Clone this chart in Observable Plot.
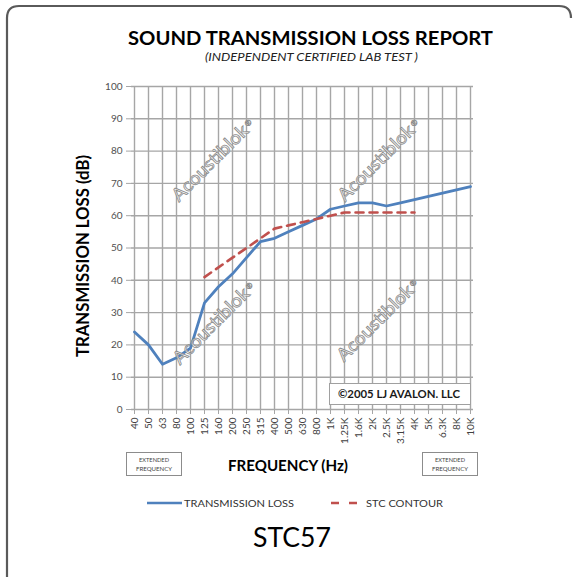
<!DOCTYPE html>
<html><head><meta charset="utf-8">
<script src="https://cdn.jsdelivr.net/npm/d3@7"></script>
<script src="https://cdn.jsdelivr.net/npm/@observablehq/plot@0.6"></script>
<style>
html,body{margin:0;padding:0;background:#fff;}
#wrap{position:relative;width:576px;height:577px;overflow:hidden;background:#fff;}
#wrap > svg{position:absolute;left:0;top:0;}
</style></head><body><div id="wrap"></div>
<script>
// ---- data ----
const frequencies = ["40","50","63","80","100","125","160","200","250","315","400","500","630","800","1K","1.25K","1.6K","2K","2.5K","3.15K","4K","5K","6.3K","8K","10K"];
const transmissionLoss = [24,20,14,16,19,33,38,42,47,52,53,55,57,59,62,63,64,64,63,64,65,66,67,68,69];
const stcFrequencies = ["125","160","200","250","315","400","500","630","800","1K","1.25K","1.6K","2K","2.5K","3.15K","4K"];
const stcContour = [41,44,47,50,53,56,57,58,59,60,61,61,61,61,61,61];
const yTicks = [0,10,20,30,40,50,60,70,80,90,100];

const title = "SOUND TRANSMISSION LOSS REPORT";
const subtitle = "(INDEPENDENT CERTIFIED LAB TEST )";
const yTitle = "TRANSMISSION LOSS (dB)";
const xTitle = "FREQUENCY (Hz)";
const copyright = "\u00A92005 LJ AVALON. LLC";
const seriesNames = ["TRANSMISSION LOSS", "STC CONTOUR"];
const seriesColors = ["#4f81bd", "#c0504d"];
const rating = "STC57";
const watermark = "Acoustiblok";

const tlData = frequencies.map((f, i) => ({f, v: transmissionLoss[i]}));
const stcData = stcFrequencies.map((f, i) => ({f, v: stcContour[i]}));

const FONT = "Lato, 'Open Sans', sans-serif";
const wrap = document.getElementById("wrap");

const chart = Plot.plot({
  width: 576, height: 450,
  marginLeft: 131, marginRight: 103, marginTop: 86, marginBottom: 41,
  style: {fontFamily: FONT, fontSize: "10px", color: "#404040", background: "transparent"},
  x: {type: "point", domain: frequencies, padding: 0, label: null},
  y: {domain: [0, 100], label: null},
  marks: [
    Plot.gridX(frequencies, {stroke: "#a6a6a6", strokeOpacity: 1, strokeWidth: 1.4}),
    Plot.gridY(yTicks, {stroke: "#a6a6a6", strokeOpacity: 1, strokeWidth: 1.4}),
    Plot.axisX(frequencies, {tickRotate: -90, tickSize: 5, tickPadding: 3, stroke: "#a6a6a6", fill: "#404040", label: null}),
    Plot.axisY(yTicks, {tickSize: 5, tickPadding: 4, stroke: "#a6a6a6", fill: "#505050", label: null}),
    Plot.line(tlData, {x: "f", y: "v", stroke: seriesColors[0], strokeWidth: 2.8, strokeLinejoin: "round"}),
    Plot.line(stcData, {x: "f", y: "v", stroke: seriesColors[1], strokeWidth: 2.6, strokeDasharray: "8,6"})
  ]
});
wrap.appendChild(chart);

// ---- overlay decorations ----
const svg = d3.select(wrap).append("svg")
  .attr("width", 576).attr("height", 577)
  .style("pointer-events", "none")
  .style("font-family", FONT);

const defs = svg.append("defs");
const grad = defs.append("linearGradient").attr("id", "fade").attr("x1", 0).attr("y1", 0).attr("x2", 0).attr("y2", 1);
grad.append("stop").attr("offset", "0%").attr("stop-color", "#5a5a5a").attr("stop-opacity", 1);
grad.append("stop").attr("offset", "60%").attr("stop-color", "#5a5a5a").attr("stop-opacity", 0.8);
grad.append("stop").attr("offset", "100%").attr("stop-color", "#5a5a5a").attr("stop-opacity", 0);

// frame
svg.append("path").attr("d", "M7,600 V18 Q7,6 19,6 H559 Q571,6 571,18")
  .attr("fill", "none").attr("stroke", "#5a5a5a").attr("stroke-width", 2.2);
svg.append("path").attr("d", "M571,18 V380")
  .attr("fill", "none").attr("stroke", "url(#fade)").attr("stroke-width", 2.2);

// watermarks
[[214,161],[380,161],[215,324],[379,321]].forEach(([cx, cy]) => {
  const g = svg.append("g").attr("transform", `translate(${cx},${cy}) rotate(-45)`);
  g.append("text").attr("x", -4)
    .attr("text-anchor", "middle").attr("dominant-baseline", "middle")
    .attr("font-size", 18).attr("fill", "#ffffff").attr("fill-opacity", 0.7)
    .attr("stroke", "#8c8c8c").attr("stroke-width", 0.8)
    .attr("textLength", 100).attr("lengthAdjust", "spacingAndGlyphs")
    .text(watermark);
  g.append("text").attr("x", 51).attr("y", -2)
    .attr("text-anchor", "middle").attr("dominant-baseline", "middle")
    .attr("font-size", 8).attr("fill", "#ffffff").attr("stroke", "#8c8c8c").attr("stroke-width", 0.6)
    .text("\u00AE");
});

function txt(x, y, s, size, opts = {}) {
  const t = svg.append("text").attr("x", x).attr("y", y).attr("font-size", size)
    .attr("text-anchor", opts.anchor || "middle").attr("fill", opts.fill || "#000")
    .attr("font-weight", opts.weight || "normal").attr("font-style", opts.style || "normal")
    .text(s);
  if (opts.len) t.attr("textLength", opts.len).attr("lengthAdjust", "spacingAndGlyphs");
  if (opts.rotate) t.attr("transform", `rotate(${opts.rotate},${x},${y})`);
  return t;
}

txt(310.5, 45, title, 18.5, {weight: "bold", len: 365});
txt(311.5, 61, subtitle, 10.5, {style: "italic", fill: "#222", len: 213});
txt(89, 256, yTitle, 16.5, {weight: "bold", len: 202, rotate: -90});

// copyright box
svg.append("rect").attr("x", 329.5).attr("y", 383.5).attr("width", 141).attr("height", 21)
  .attr("fill", "#fff").attr("stroke", "#a0a0a0").attr("stroke-width", 1);
txt(399, 398, copyright, 10.5, {weight: "bold", fill: "#1a1a1a", len: 122});

// extended frequency boxes
[[126, 452], [422, 452]].forEach(([bx, by]) => {
  svg.append("rect").attr("x", bx + 0.5).attr("y", by + 0.5).attr("width", 55).attr("height", 23)
    .attr("fill", "#fff").attr("stroke", "#8c8c8c").attr("stroke-width", 1);
  txt(bx + 28, by + 10, "EXTENDED", 6, {fill: "#444", len: 30});
  txt(bx + 28, by + 19, "FREQUENCY", 6, {fill: "#444", len: 36});
});

txt(288, 471, xTitle, 15, {weight: "bold", len: 120});

// legend
svg.append("line").attr("x1", 147).attr("x2", 182).attr("y1", 503).attr("y2", 503)
  .attr("stroke", seriesColors[0]).attr("stroke-width", 2.6);
txt(184, 507, seriesNames[0], 10, {anchor: "start", fill: "#333", len: 110});
svg.append("line").attr("x1", 331).attr("x2", 357).attr("y1", 503).attr("y2", 503)
  .attr("stroke", seriesColors[1]).attr("stroke-width", 2.6).attr("stroke-dasharray", "8,10");
txt(366, 507, seriesNames[1], 10, {anchor: "start", fill: "#333", len: 77});

txt(292, 547, rating, 27, {fill: "#000", len: 78});
</script>
</body></html>
